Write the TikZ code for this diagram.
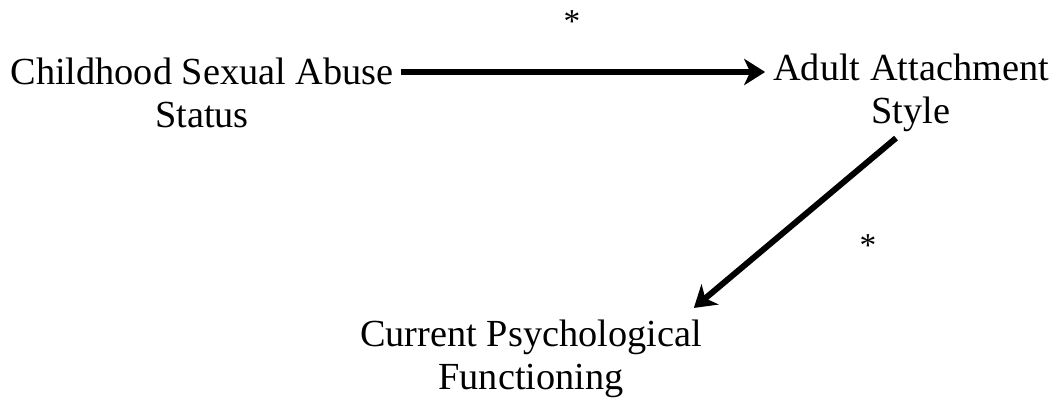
\documentclass[tikz,border=0pt]{standalone}
\usepackage{fontspec}
\setmainfont{Liberation Serif}
\usetikzlibrary{arrows.meta, positioning, calc}

\begin{document}
\begin{tikzpicture}[
  x=0.02cm, y=-0.02cm,
  var/.style={align=center, inner sep=1pt, font=\fontsize{21.8}{24.5}\selectfont},
  star/.style={font=\fontsize{19}{22}\selectfont, inner sep=0pt},
  arr/.style={-{Stealth[length=12pt, width=15pt, inset=3.5pt]}, line width=3.4pt}
]
\useasboundingbox (0,0) rectangle (1060,402);
\node[var] (csa) at (202,93)  {Childhood Sexual Abuse\\Status};
\node[var] (aas) at (911,93)  {Adult Attachment\\Style};
\node[var] (cpf) at (531,359) {Current Psychological\\Functioning};
\node[star] (s1) at (572,22)  {*};
\node[star] (s2) at (868,246) {*};
\draw[arr] ([xshift=0.1cm, yshift=0.42cm]csa.east) -- ([xshift=-0.12cm, yshift=0.42cm]aas.west);
\draw[arr] ([xshift=-0.3cm, yshift=-0.08cm]aas.south) -- ([xshift=-0.2cm, yshift=0.2cm]cpf.north east);
\end{tikzpicture}
\end{document}
